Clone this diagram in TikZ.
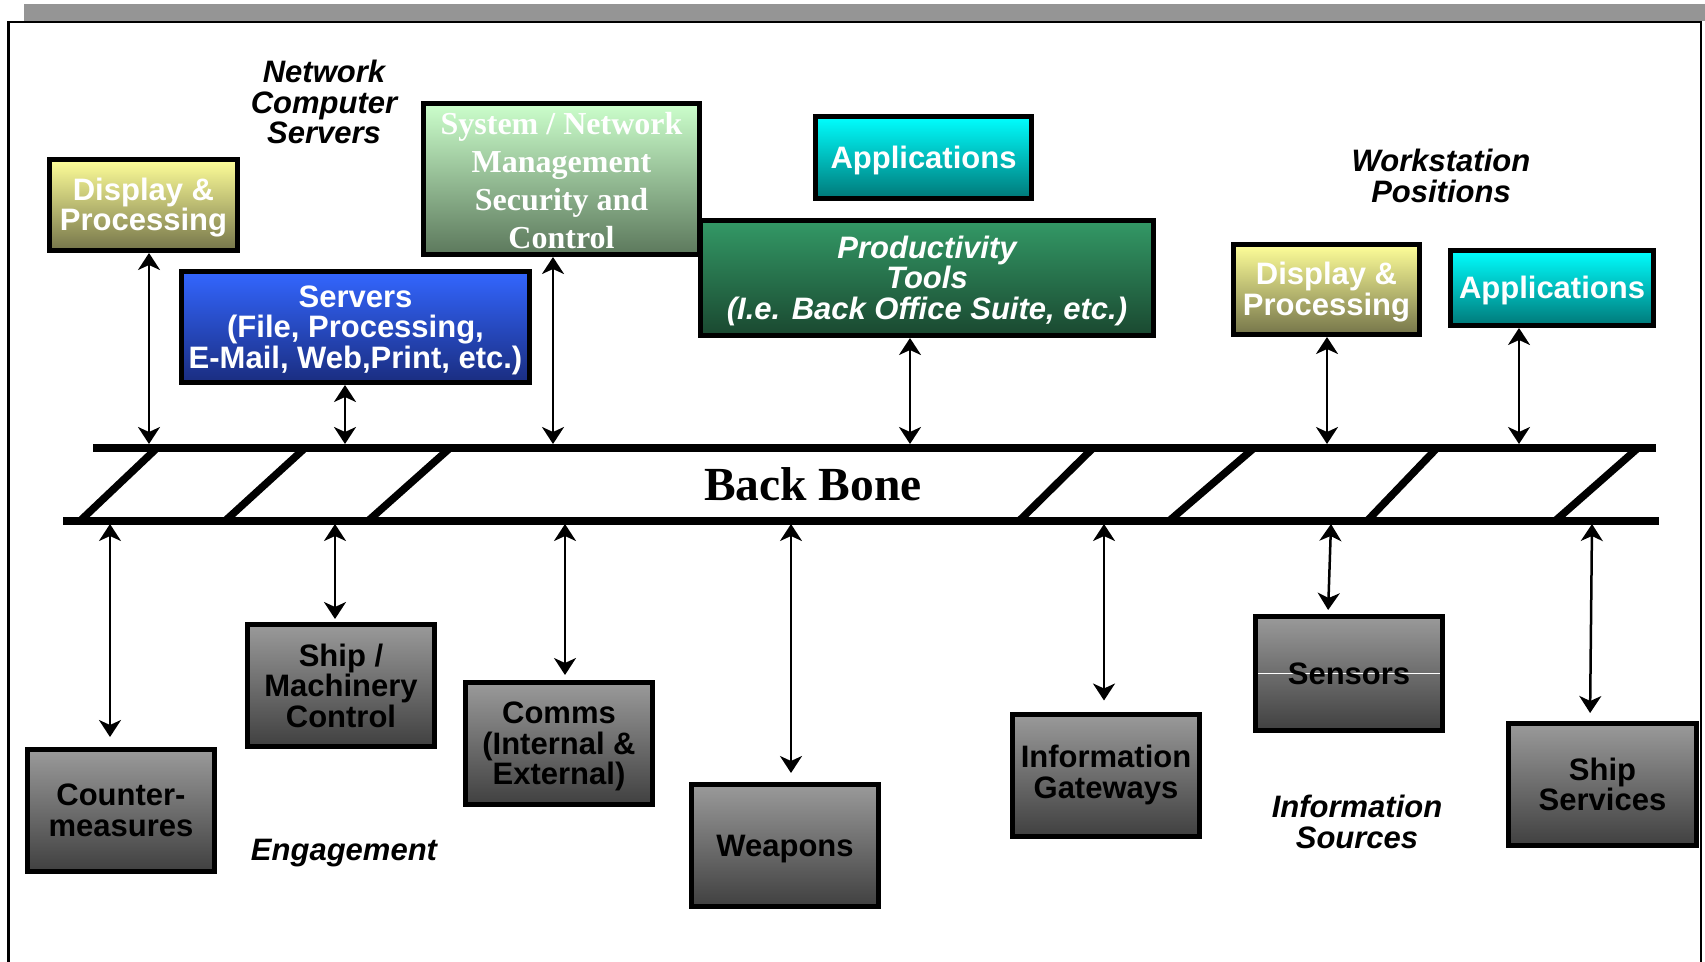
\documentclass[tikz,border=0pt]{standalone}
\usepackage{fontspec}
\setmainfont{Liberation Sans}
\newfontfamily\serifbb{Liberation Serif}
\usetikzlibrary{arrows.meta}
\definecolor{dispTop}{HTML}{FFFF99}
\definecolor{dispBot}{HTML}{75754A}
\definecolor{servTop}{HTML}{3366FF}
\definecolor{servBot}{HTML}{1A2D80}
\definecolor{sysTop}{HTML}{CCFFCC}
\definecolor{sysBot}{HTML}{5C785C}
\definecolor{appTop}{HTML}{00FFFF}
\definecolor{appBot}{HTML}{007878}
\definecolor{prodTop}{HTML}{339966}
\definecolor{prodBot}{HTML}{1A4830}
\definecolor{grTop}{HTML}{9A9A9A}
\definecolor{grBot}{HTML}{404040}
\definecolor{shadowgray}{HTML}{959595}
\newcommand{\dgsans}{\fontsize{31pt}{30.5pt}\selectfont\bfseries}
\newcommand{\dgsansit}{\fontsize{31pt}{30.5pt}\selectfont\bfseries\itshape}
\newcommand{\dgserif}{\serifbb\fontsize{32pt}{38pt}\selectfont\bfseries}
\newcommand{\dgbb}{\serifbb\fontsize{47.5pt}{50pt}\selectfont\bfseries}
\newcommand{\dgup}{\rule{0pt}{27.5pt}}
\newcommand{\dgupser}{\rule{0pt}{26pt}}
\begin{document}
\begin{tikzpicture}[x=1pt,y=-1pt,
  cbox/.style={draw=black, line width=5pt, inner sep=0pt, align=center, font=\dgsans, text=white},
  gbox/.style={cbox, text=black, top color=grTop, bottom color=grBot, minimum width=187pt, minimum height=122pt},
  lbl/.style={inner sep=0pt, align=center, font=\dgsansit, text=black},
  dar/.style={line width=2.5pt, {Stealth[length=17pt,width=22pt,inset=5pt]}-{Stealth[length=17pt,width=22pt,inset=5pt]}},
  bbline/.style={line width=8pt, line cap=butt},
  slash/.style={line width=7.5pt, line cap=butt}
]
\useasboundingbox (0,0) rectangle (1705,961);
% shadow bar and frame
\fill[shadowgray] (24,4) rectangle (1705,20.5);
\draw[line width=2.5pt] (8.5,970) -- (8.5,22) -- (1701,22) -- (1701,970);

% upper boxes
\node[cbox, top color=dispTop, bottom color=dispBot, minimum width=188pt, minimum height=91pt] (disp1) at (143.5,205) {\dgup Display \&\\Processing};
\node[cbox, top color=servTop, bottom color=servBot, minimum width=348pt, minimum height=111pt] (serv) at (355.5,327) {\dgup Servers\\(File, Processing,\\E-Mail, Web,Print, etc.)};
\node[cbox, font=\dgserif, top color=sysTop, bottom color=sysBot, minimum width=276pt, minimum height=151pt] (sysm) at (561.5,179) {\dgupser System / Network\\Management\\Security and\\Control};
\node[cbox, top color=appTop, bottom color=appBot, minimum width=216pt, minimum height=82pt] (app1) at (923.5,157.5) {\dgup Applications};
\node[cbox, font=\dgsansit, top color=prodTop, bottom color=prodBot, minimum width=453pt, minimum height=115pt] (prod) at (927,278) {\dgup Productivity\\Tools\\(I.e. Back Office Suite, etc.)};
\node[cbox, top color=dispTop, bottom color=dispBot, minimum width=186pt, minimum height=90pt] (disp2) at (1326.5,289.5) {\dgup Display \&\\Processing};
\node[cbox, top color=appTop, bottom color=appBot, minimum width=203pt, minimum height=75pt] (app2) at (1552,288) {\dgup Applications};

% lower boxes
\node[gbox] (cm) at (121,810.5) {Counter-\\measures};
\node[gbox] (ship) at (341,685.5) {Ship /\\Machinery\\Control};
\node[gbox] (comms) at (559,743.5) {\dgup Comms\\(Internal \&\\External)};
\node[gbox] (weap) at (785,845.5) {\dgup Weapons};
\node[gbox] (gate) at (1106,775) {Information\\Gateways};
\node[gbox, minimum height=114pt, path picture={\draw[white,line width=1pt] (path picture bounding box.west) -- (path picture bounding box.east);}] (sens) at (1349,673.5) {Sensors};
\node[gbox, minimum width=188pt] (shipsvc) at (1602.5,784.5) {Ship\\Services};

% labels
\node[lbl] (ncs) at (324,102) {Network\\Computer\\Servers};
\node[lbl] (wsp) at (1441,176) {Workstation\\Positions};
\node[lbl, anchor=base] (eng) at (344,860) {Engagement};
\node[lbl] (isrc) at (1357,822) {Information\\Sources};

% backbone
\draw[bbline] (93,448) -- (1656,448);
\draw[bbline] (63,521) -- (1659,521);
\foreach \a/\b in {80/157, 225/305, 368/450, 1019/1093, 1169/1254, 1367/1437, 1555/1638}
  \draw[slash] (\a,521) -- (\b,448);
\node[inner sep=0pt, font=\dgbb, anchor=base] (bb) at (813,500) {Back Bone};

% top connectors
\coordinate (t1) at (149,444);
\coordinate (t2) at (345,444);
\coordinate (t3) at (553,444);
\coordinate (t4) at (910,444);
\coordinate (t5) at (1327,444);
\coordinate (t6) at (1519,444);
\draw[dar] (disp1.south -| t1) -- (t1);
\draw[dar] (serv.south -| t2) -- (t2);
\draw[dar] (sysm.south -| t3) -- (t3);
\draw[dar] (prod.south -| t4) -- (t4);
\draw[dar] (disp2.south -| t5) -- (t5);
\draw[dar] (app2.south -| t6) -- (t6);

% bottom connectors
\coordinate (u1) at (110,524);
\coordinate (u2) at (335,524);
\coordinate (u3) at (565,524);
\coordinate (u4) at (791,524);
\coordinate (u5) at (1104,524);
\coordinate (u6) at (1331,524);
\coordinate (u7) at (1592,524);
\draw[dar, shorten >=10pt] (u1) -- (cm.north -| u1);
\draw[dar, shorten >=3pt] (u2) -- (ship.north -| u2);
\draw[dar, shorten >=5pt] (u3) -- (comms.north -| u3);
\draw[dar, shorten >=9pt] (u4) -- (weap.north -| u4);
\draw[dar, shorten >=11pt] (u5) -- (gate.north -| u5);
\draw[dar, shorten >=4pt] (u6) -- ([xshift=-21pt]sens.north);
\draw[dar, shorten >=8pt] (u7) -- ([xshift=-12.5pt]shipsvc.north);
\end{tikzpicture}
\end{document}
